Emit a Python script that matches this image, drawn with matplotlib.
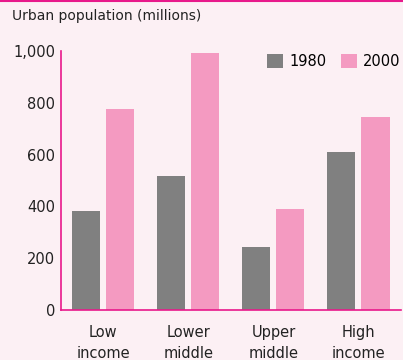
import numpy as np
import matplotlib.pyplot as plt
from matplotlib.lines import Line2D

CATEGORIES = ["Low\nincome", "Lower\nmiddle", "Upper\nmiddle", "High\nincome"]
POP_1980 = [382, 517, 243, 610]
POP_2000 = [776, 992, 390, 745]
Y_TICKS = [0, 200, 400, 600, 800, 1000]

BG = "#fcf0f4"
MAGENTA = "#e8198b"
GRAY = "#808080"
PINK = "#f49ac1"

plt.rcParams["font.family"] = "DejaVu Sans"

fig = plt.figure(figsize=(4.03, 3.6), dpi=100, facecolor=BG)
ax = fig.add_axes([0.151, 0.139, 0.844, 0.719], facecolor=BG)

x = np.arange(len(CATEGORIES))
ax.bar(x - 0.2, POP_1980, width=0.33, color=GRAY, label="1980")
ax.bar(x + 0.2, POP_2000, width=0.33, color=PINK, label="2000")

ax.set_xlim(-0.5, 3.5)
ax.set_ylim(0, 1000)
ax.set_yticks(Y_TICKS)
ax.set_yticklabels([f"{v:,}" for v in Y_TICKS], fontsize=10.5, color="#222222")
ax.set_xticks(x)
ax.set_xticklabels(CATEGORIES, fontsize=10.5, color="#222222", linespacing=1.5)
ax.tick_params(axis="both", length=0)
ax.tick_params(axis="y", pad=4)
ax.tick_params(axis="x", pad=11)

for side in ["top", "right"]:
    ax.spines[side].set_visible(False)
for side in ["left", "bottom"]:
    ax.spines[side].set_color(MAGENTA)
    ax.spines[side].set_linewidth(1.2)

ax.legend(loc="upper right", bbox_to_anchor=(1.038, 1.04), ncol=2, frameon=False,
          fontsize=10.5, handlelength=1.1, handleheight=1.1, handletextpad=0.4,
          columnspacing=1.05)

fig.text(0.03, 0.955, "Urban population (millions)", fontsize=10, color="#222222",
         va="center", ha="left")
fig.add_artist(Line2D([0, 1], [0.998, 0.998], color=MAGENTA, linewidth=1.5,
                      transform=fig.transFigure))

fig.savefig("out.png", dpi=100, facecolor=BG)
